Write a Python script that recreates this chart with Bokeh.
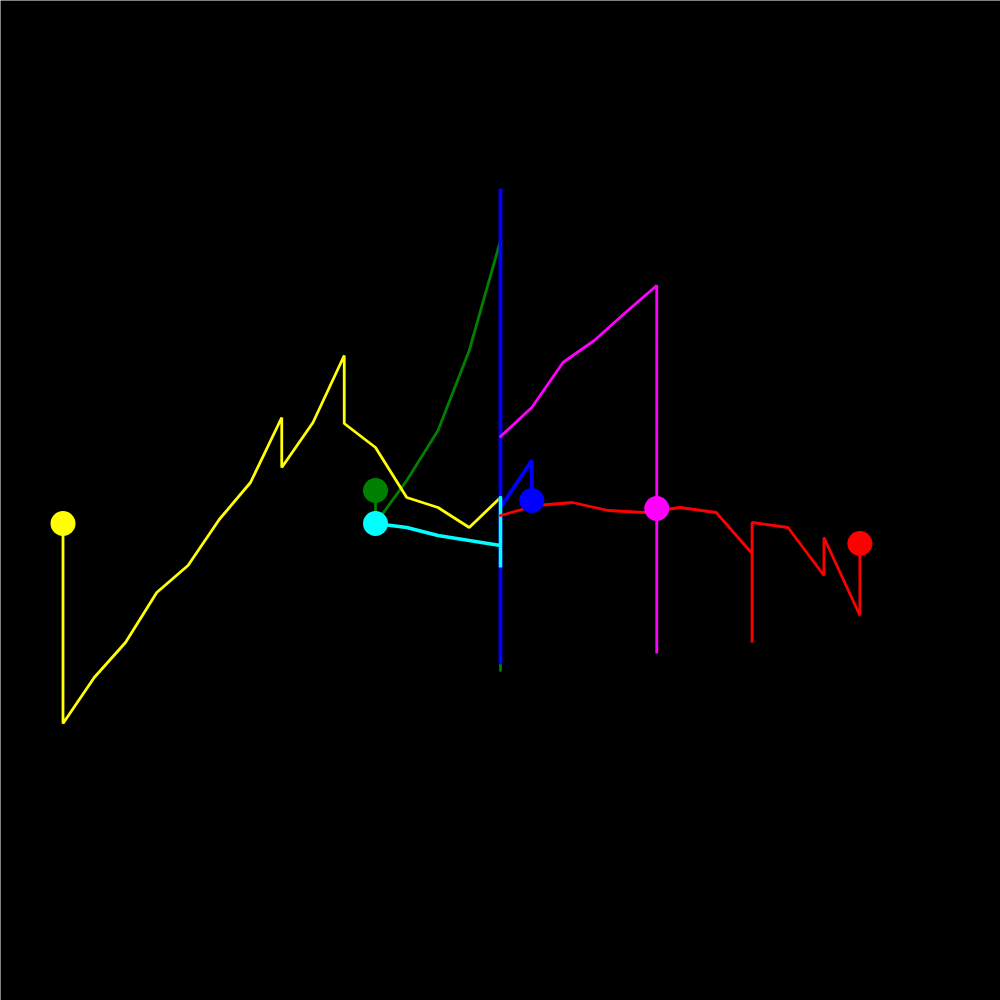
from bokeh.plotting import figure
from bokeh.models import Range1d
from bokeh.embed import file_html
from bokeh.resources import INLINE

# Data (x in step units, y in chart units)
yellow_x = [-14, -14, -13, -12, -11, -10, -9, -8, -7, -7, -6, -5, -5, -4, -3, -2, -1, 0]
yellow_y = [477, 277, 323, 358, 408, 435, 481, 518, 583, 533, 578, 645, 577, 553, 503, 493, 473, 503]

green_x = [-4, -4, -3, -2, -1, 0, 0]
green_y = [510, 477, 520, 570, 650, 760, 330]

cyan_x = [-4, -3, -2, -1, 0, 0, 0]
cyan_y = [477, 473, 465, 460, 455, 433, 503]

blue_x = [1, 1, 0, 0, 0]
blue_y = [500, 540, 493, 812, 338]

magenta_x = [5, 5, 5, 4, 3, 2, 1, 0]
magenta_y = [492, 347, 715, 688, 660, 638, 593, 564]

red_x = [11.5, 11.5, 10.35, 10.35, 9.2, 8.05, 8.05, 8.05, 6.9, 5.75, 4.6, 3.45, 2.3, 1.15, 0]
red_y = [457, 385, 463, 425, 473, 478, 358, 447, 488, 493, 488, 490, 498, 495, 485]

series = [
    ("green", "#008000", green_x, green_y, 2.8),
    ("yellow", "#ffff00", yellow_x, yellow_y, 2.8),
    ("blue", "#0000ff", blue_x, blue_y, 3.8),
    ("cyan", "#00ffff", cyan_x, cyan_y, 3.5),
    ("red", "#ff0000", red_x, red_y, 2.8),
    ("magenta", "#ff00ff", magenta_x, magenta_y, 2.8),
]

p = figure(width=1000, height=1000, output_backend="svg", toolbar_location=None,
           x_range=Range1d(-16, 16), y_range=Range1d(0, 1000),
           background_fill_color="black", border_fill_color="black",
           min_border=0, outline_line_color=None)
p.axis.visible = False
p.grid.visible = False

for name, col, xs, ys, lw in series:
    p.line(xs, ys, line_color=col, line_width=lw, line_cap="round")

for name, col, xs, ys, lw in series:
    p.scatter([xs[0]], [ys[0]], size=25, fill_color=col, line_color=None)

open("out.html", "w").write(file_html(p, INLINE))
